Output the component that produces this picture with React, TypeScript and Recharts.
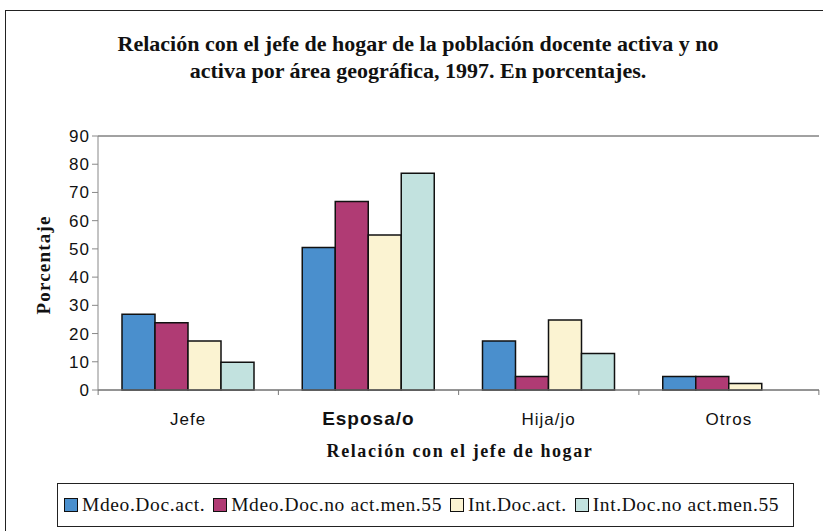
import { BarChart, Bar, XAxis, YAxis, CartesianGrid } from "recharts";

const categories = ["Jefe", "Esposa/o", "Hija/jo", "Otros"];
const mdeoAct = [26.8, 50.5, 17.4, 4.8];
const mdeoNoAct = [23.8, 66.8, 4.8, 4.8];
const intAct = [17.4, 54.9, 24.8, 2.3];
const intNoAct = [9.8, 76.8, 12.9, 0];
const yTicks = [0, 10, 20, 30, 40, 50, 60, 70, 80, 90];

const series = [
  { key: "mdeoAct", name: "Mdeo.Doc.act.", color: "#4a8fcd", values: mdeoAct },
  { key: "mdeoNoAct", name: "Mdeo.Doc.no act.men.55", color: "#b03b74", values: mdeoNoAct },
  { key: "intAct", name: "Int.Doc.act.", color: "#fbf3d2", values: intAct },
  { key: "intNoAct", name: "Int.Doc.no act.men.55", color: "#c2e2df", values: intNoAct },
];

const data = categories.map((c, i) => {
  const row: Record<string, string | number> = { cat: c };
  series.forEach((s) => (row[s.key] = s.values[i]));
  return row;
});

const serif = "'Liberation Serif', 'DejaVu Serif', serif";
const sans = "'Liberation Sans', Arial, sans-serif";

function CatTick(props: any) {
  const { x, y, payload } = props;
  const bold = payload.value === "Esposa/o";
  return (
    <g>
      <line x1={x - 90} y1={y - 8} x2={x - 90} y2={y - 3} stroke="#777" />
      {payload.index === categories.length - 1 && <line x1={x + 90} y1={y - 8} x2={x + 90} y2={y - 3} stroke="#777" />}
      <text x={x} y={y + 27} textAnchor="middle" fontFamily={sans} fontSize={bold ? 19 : 17} letterSpacing={1} fontWeight={bold ? 700 : 400} fill="#111">
        {payload.value}
      </text>
    </g>
  );
}

function LegendBox() {
  return (
    <div style={{ position: "absolute", left: 57, top: 483, height: 44, boxSizing: "border-box", border: "1px solid #222", display: "flex", alignItems: "center", padding: "0 6px", fontFamily: serif, fontSize: 19.5, letterSpacing: 0.6, color: "#111", background: "#fff", whiteSpace: "nowrap" }}>
      {series.map((s) => (
        <span key={s.key} style={{ display: "inline-flex", alignItems: "center", marginRight: 8 }}>
          <span style={{ width: 12, height: 12, background: s.color, border: "1.5px solid #111", marginRight: 4, display: "inline-block" }} />
          {s.name}
        </span>
      ))}
    </div>
  );
}

export default function App() {
  return (
    <div style={{ position: "fixed", left: 0, top: 0, width: 823, height: 531, background: "#fff", overflow: "hidden" }}>
      <div style={{ position: "absolute", left: 5, top: 10, width: 830, height: 530, borderLeft: "1.5px solid #222", borderTop: "1.5px solid #222" }} />
      <div style={{ position: "absolute", left: 0, top: 30, width: 836, textAlign: "center", fontFamily: serif, fontWeight: 700, fontSize: 22, lineHeight: "27px", color: "#111" }}>
        Relación con el jefe de hogar de la población docente activa y no
        <br />
        activa por área geográfica, 1997. En porcentajes.
      </div>
      <div style={{ position: "absolute", left: 44, top: 265, transform: "translate(-50%, -50%) rotate(-90deg)", fontFamily: serif, fontWeight: 700, fontSize: 19, letterSpacing: 1.2, color: "#111", whiteSpace: "nowrap" }}>
        Porcentaje
      </div>
      <div style={{ position: "absolute", left: 0, top: 441, width: 920, textAlign: "center", fontFamily: serif, fontWeight: 700, fontSize: 18, letterSpacing: 1.6, color: "#111" }}>
        Relación con el jefe de hogar
      </div>
      <div style={{ position: "absolute", left: 0, top: 0 }}>
        <BarChart width={823} height={531} data={data} margin={{ top: 136, right: 4, left: 48, bottom: 101 }} barGap={0} barCategoryGap={24}>
          <CartesianGrid vertical={false} stroke="#444" />
          <XAxis dataKey="cat" tick={<CatTick />} tickLine={false} axisLine={{ stroke: "#888" }} height={40} interval={0} />
          <YAxis yAxisId="l" domain={[0, 90]} ticks={yTicks} width={50} axisLine={{ stroke: "#888" }} tickLine={{ stroke: "#888" }} tickSize={6} tick={{ fontSize: 17, fill: "#111", fontFamily: sans, letterSpacing: 1 }} />
          <YAxis yAxisId="r" orientation="right" width={0} tick={false} tickLine={false} axisLine={{ stroke: "#999" }} />
          {series.map((s) => (
            <Bar key={s.key} yAxisId="l" dataKey={s.key} name={s.name} fill={s.color} stroke="#111" strokeWidth={1.5} isAnimationActive={false} />
          ))}
        </BarChart>
      </div>
      <LegendBox />
    </div>
  );
}
